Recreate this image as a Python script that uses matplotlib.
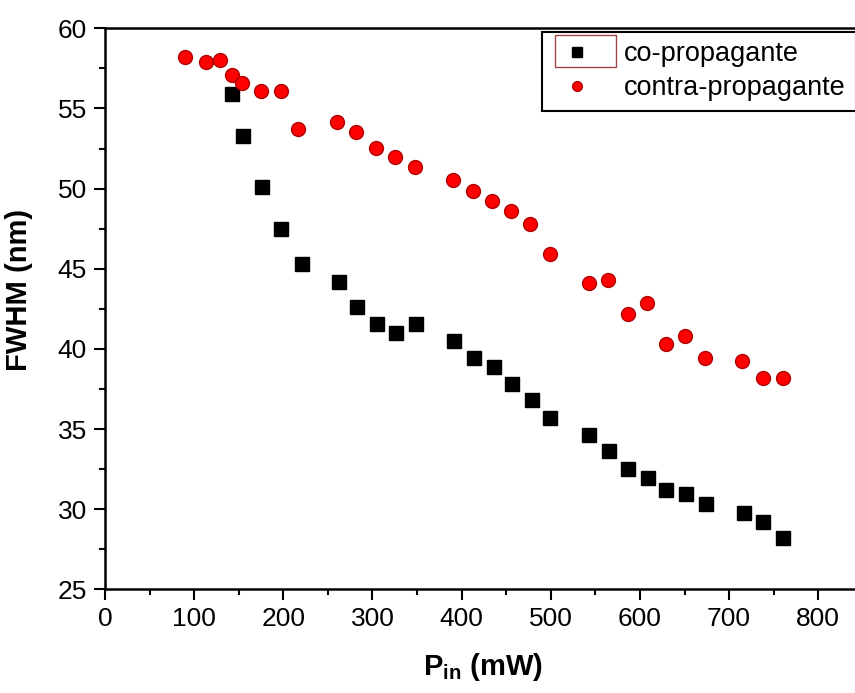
import numpy as np
import matplotlib
matplotlib.use('Agg')
import matplotlib.pyplot as plt
from matplotlib.patches import Rectangle
from matplotlib.ticker import MultipleLocator

plt.rcParams['font.family'] = ['Liberation Sans', 'DejaVu Sans']
plt.rcParams['mathtext.fontset'] = 'custom'
plt.rcParams['mathtext.rm'] = 'Liberation Sans'
plt.rcParams['mathtext.bf'] = 'Liberation Sans:bold'

# Dades llegides del grafic
x_co = [142.6, 154.6, 175.8, 197, 220.4, 262.2, 283, 305, 326.7, 348.4, 391, 413.4, 435.8,
        456.4, 478.8, 499.3, 543.4, 565.8, 587, 608.8, 629.4, 651.8, 674, 717, 737.6, 760]
y_co = [55.9, 53.3, 50.1, 47.5, 45.31, 44.2, 42.6, 41.56, 41.0, 41.56, 40.5, 39.4, 38.9,
        37.8, 36.8, 35.7, 34.6, 33.6, 32.5, 31.94, 31.2, 30.94, 30.35, 29.75, 29.2, 28.19]

x_contra = [89.6, 112.8, 129, 142, 154, 175, 197, 217, 260.6, 282, 304.3, 325.6, 347.5, 390.5,
            412.2, 434.6, 455.9, 476.5, 498.6, 542.6, 564.7, 586.3, 607.6, 629.4, 650.6, 673,
            715, 737.6, 760]
y_contra = [58.19, 57.9, 58.0, 57.1, 56.6, 56.1, 56.1, 53.7, 54.17, 53.55, 52.55, 51.95, 51.33,
            50.54, 49.87, 49.25, 48.62, 47.8, 45.94, 44.1, 44.27, 42.2, 42.85, 40.3, 40.8, 39.44,
            39.27, 38.19, 38.2]

W, H = 855., 693.
fig = plt.figure(figsize=(W/100, H/100), dpi=100)
# eixos: x=0 a 105 px, y=60 a 28.3 px, y=25 a 589.3 px
ax = fig.add_axes((105/W, 1-589.3/H, 1-105/W, (589.3-28.3)/H))

ax.plot(x_co, y_co, ls='none', marker='s', ms=9.5, color='black', label='co-propagante')
ax.plot(x_contra, y_contra, ls='none', marker='o', ms=10, color='#ff0000',
        mec='#b00000', mew=1, label='contra-propagante')

ax.set_xlim(0, (W-105)/0.8916)
ax.set_ylim(25, 60)
ax.xaxis.set_major_locator(MultipleLocator(100))
ax.xaxis.set_minor_locator(MultipleLocator(50))
ax.yaxis.set_major_locator(MultipleLocator(5))
ax.yaxis.set_minor_locator(MultipleLocator(2.5))
ax.tick_params(which='major', direction='out', length=8, width=1.5, labelsize=19, pad=5)
ax.tick_params(which='minor', direction='out', length=4.5, width=1.5)
for s in ['left', 'bottom', 'top']:
    ax.spines[s].set_linewidth(1.8)
ax.spines['right'].set_visible(False)

ax.set_xlabel(r'$\mathbf{P_{in}}$ (mW)', fontsize=21, fontweight='bold')
ax.xaxis.set_label_coords((483-105)/(W-105), -(651-589.3)/(589.3-28.3))
ax.set_ylabel('FWHM (nm)', fontsize=21, fontweight='bold')
ax.yaxis.set_label_coords(-(105-33)/(W-105), (589.3-290)/(589.3-28.3))

leg = ax.legend(loc='upper left', bbox_to_anchor=(541.7/W, 1-31.7/H),
                bbox_transform=fig.transFigure, borderaxespad=0, fontsize=19.5,
                fancybox=False, frameon=True, edgecolor='black', framealpha=1,
                handletextpad=0.8, labelspacing=0.3, borderpad=0.35, handlelength=1.9,
                markerscale=0.7)
leg.get_frame().set_linewidth(1.5)

# caixeta al voltant del simbol (com a l'original)
fig.patches.append(Rectangle((555/W, 1-67/H), 61/W, 32/H, transform=fig.transFigure,
                             fill=False, edgecolor='#a04545', lw=1))

plt.savefig('out.png', dpi=100)
